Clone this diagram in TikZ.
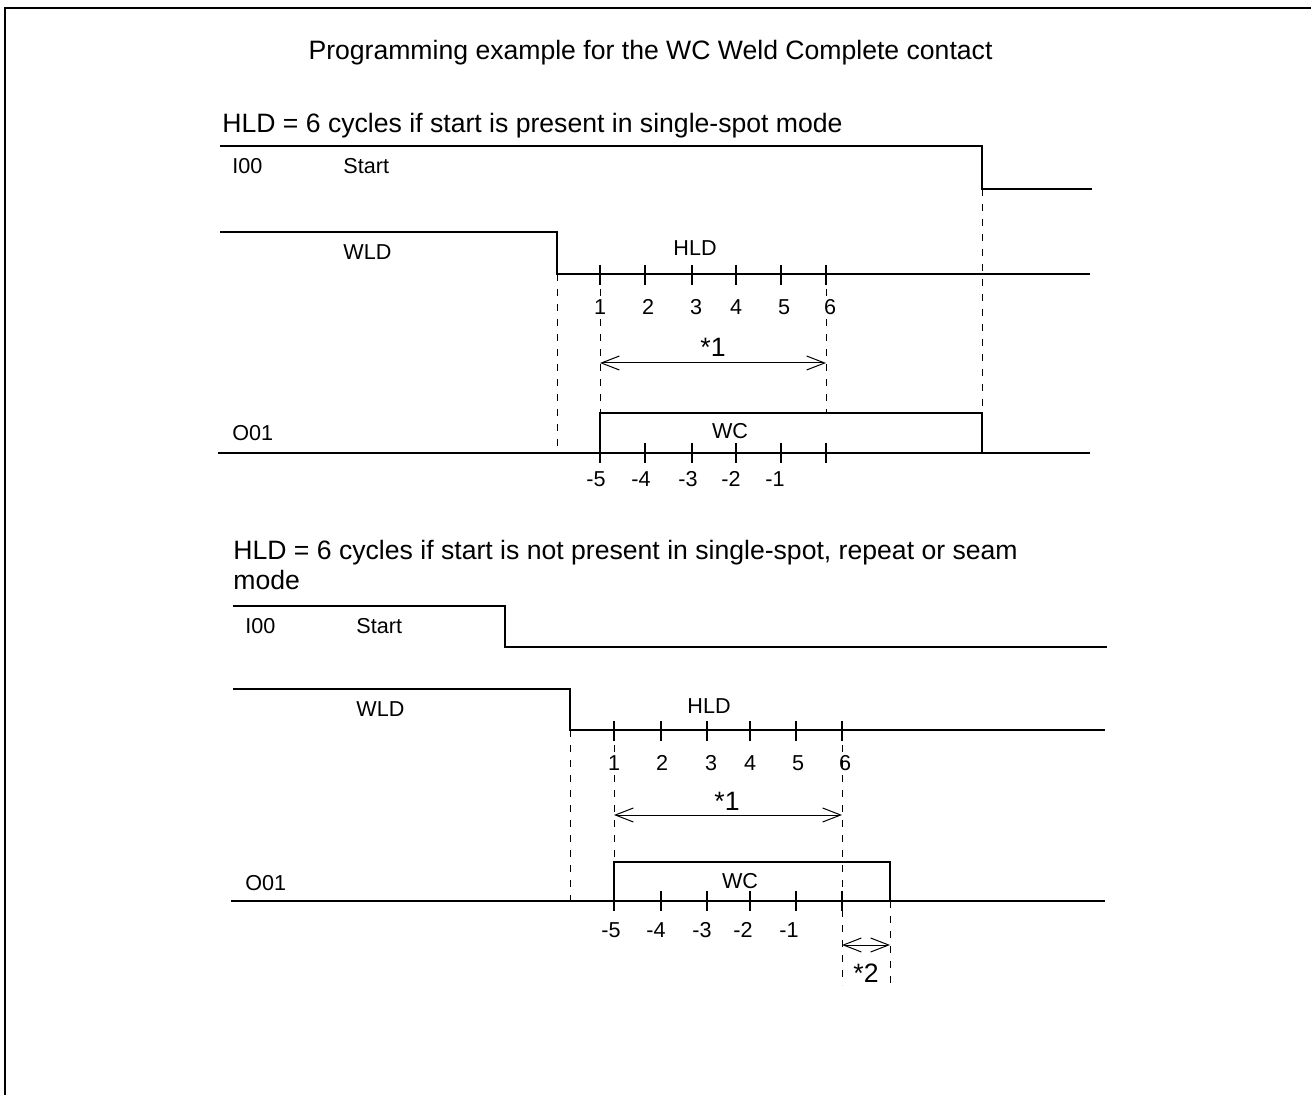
\documentclass[tikz,border=0pt]{standalone}
\usepackage{fontspec}
\setmainfont{Liberation Sans}
\usetikzlibrary{arrows.meta}
\begin{document}
\begin{tikzpicture}[x=0.5pt,y=-0.5pt,
  frame/.style={line width=1pt},
  sig/.style={line width=0.7pt},
  guide/.style={line width=0.5pt, dash pattern=on 3.5pt off 4pt},
  tickmark/.style={line width=0.6pt},
  lbl/.style={font=\fontsize{10.8}{13}\selectfont, inner sep=0pt},
  big/.style={font=\fontsize{13.3}{15}\selectfont, inner sep=0pt},
  dimline/.style={line width=0.5pt, {Straight Barb[length=9pt,width=7pt]}-{Straight Barb[length=9pt,width=7pt]}}]
\useasboundingbox (0,0) rectangle (1311,1095);
\draw[frame] (5,1095) -- (5,8) -- (1311,8);

\node[big, anchor=base] (title) at (650.5,59.5) {Programming example for the WC Weld Complete contact};

% ---------------- top diagram ----------------
\node[big, anchor=base west] (h1) at (222,133) {HLD = 6 cycles if start is present in single-spot mode};
% I00 start
\coordinate (s1a) at (220,146); \coordinate (s1b) at (982,146);
\coordinate (s1c) at (982,189); \coordinate (s1d) at (1092,189);
\draw[sig] (s1a) -- (s1b) -- (s1c) -- (s1d);
\node[lbl, anchor=base west] (i00a) at (232,174) {I00};
\node[lbl, anchor=base west] (starta) at (343,174) {Start};
% WLD / HLD
\coordinate (w1a) at (220,232); \coordinate (w1b) at (557,232);
\coordinate (w1c) at (557,274); \coordinate (w1d) at (1090,274);
\draw[sig] (w1a) -- (w1b) -- (w1c) -- (w1d);
\node[lbl, anchor=base west] (wlda) at (343,260) {WLD};
\node[lbl, anchor=base] (hlda) at (695,256) {HLD};
\foreach \x in {600,645,692,736,781,826} \draw[tickmark] (\x,265) -- (\x,285);
\foreach \x/\t [count=\i] in {600/1,648/2,696/3,736/4,784/5,830/6}
  \node[lbl, anchor=base] (na\i) at (\x,315) {\t};
% O01 / WC
\coordinate (o1a) at (218,453); \coordinate (o1b) at (600,453);
\coordinate (o1c) at (600,413); \coordinate (o1d) at (982,413);
\coordinate (o1e) at (982,453); \coordinate (o1f) at (1090,453);
\draw[sig] (o1a) -- (o1f);
\draw[sig] (o1b) -- (o1c) -- (o1d) -- (o1e);
\node[lbl, anchor=base west] (o01a) at (232,441) {O01};
\node[lbl, anchor=base] (wca) at (730,439) {WC};
\foreach \x in {600,645,692,736,781,826} \draw[tickmark] (\x,443) -- (\x,463);
\foreach \x/\t [count=\i] in {596/-5,641/-4,688/-3,731/-2,775/-1}
  \node[lbl, anchor=base] (ma\i) at (\x,487) {\t};
% guides
\draw[guide] (w1c) -- (557,453);
\draw[guide] (600,274) -- (o1c);
\draw[guide] (826,274) -- (826,413);
\draw[guide] (s1c) -- (o1d);
% *1
\coordinate (d1a) at (600,363); \coordinate (d1b) at (826,363);
\draw[dimline] (d1a) -- (d1b);
\node[big, anchor=base] (st1a) at (713,357) {*1};

% ---------------- bottom diagram ----------------
\node[big, anchor=base west] (h2) at (233,559.5) {HLD = 6 cycles if start is not present in single-spot, repeat or seam};
\node[big, anchor=base west] (h2b) at (233,589.5) {mode};
% I00 start
\coordinate (s2a) at (233,606); \coordinate (s2b) at (505,606);
\coordinate (s2c) at (505,647); \coordinate (s2d) at (1107,647);
\draw[sig] (s2a) -- (s2b) -- (s2c) -- (s2d);
\node[lbl, anchor=base west] (i00b) at (245,634) {I00};
\node[lbl, anchor=base west] (startb) at (356,634) {Start};
% WLD / HLD
\coordinate (w2a) at (233,689); \coordinate (w2b) at (570,689);
\coordinate (w2c) at (570,730); \coordinate (w2d) at (1105,730);
\draw[sig] (w2a) -- (w2b) -- (w2c) -- (w2d);
\node[lbl, anchor=base west] (wldb) at (356,717) {WLD};
\node[lbl, anchor=base] (hldb) at (709,713) {HLD};
\foreach \x in {614,661,707,750,796,842} \draw[tickmark] (\x,721) -- (\x,741);
\foreach \x/\t [count=\i] in {614/1,662/2,711/3,750/4,798/5,845/6}
  \node[lbl, anchor=base] (nb\i) at (\x,770) {\t};
% O01 / WC
\coordinate (o2a) at (231,901); \coordinate (o2b) at (614,901);
\coordinate (o2c) at (614,862); \coordinate (o2d) at (890,862);
\coordinate (o2e) at (890,901); \coordinate (o2f) at (1105,901);
\draw[sig] (o2a) -- (o2f);
\draw[sig] (o2b) -- (o2c) -- (o2d) -- (o2e);
\node[lbl, anchor=base west] (o01b) at (245,890) {O01};
\node[lbl, anchor=base] (wcb) at (740,888) {WC};
\foreach \x in {614,661,707,750,796,842} \draw[tickmark] (\x,891) -- (\x,911);
\foreach \x/\t [count=\i] in {611/-5,656/-4,702/-3,743/-2,789/-1}
  \node[lbl, anchor=base] (mb\i) at (\x,937) {\t};
% guides
\draw[guide] (w2c) -- (570,901);
\draw[guide] (614,730) -- (o2c);
\draw[guide] (842,730) -- (842,985);
\draw[guide] (o2e) -- (890,985);
% *1 and *2
\coordinate (d2a) at (614,815); \coordinate (d2b) at (842,815);
\draw[dimline] (d2a) -- (d2b);
\node[big, anchor=base] (st1b) at (727,810) {*1};
\coordinate (d3a) at (842,945); \coordinate (d3b) at (890,945);
\draw[dimline] (d3a) -- (d3b);
\node[big, anchor=base] (st2b) at (866,982) {*2};
\end{tikzpicture}
\end{document}
